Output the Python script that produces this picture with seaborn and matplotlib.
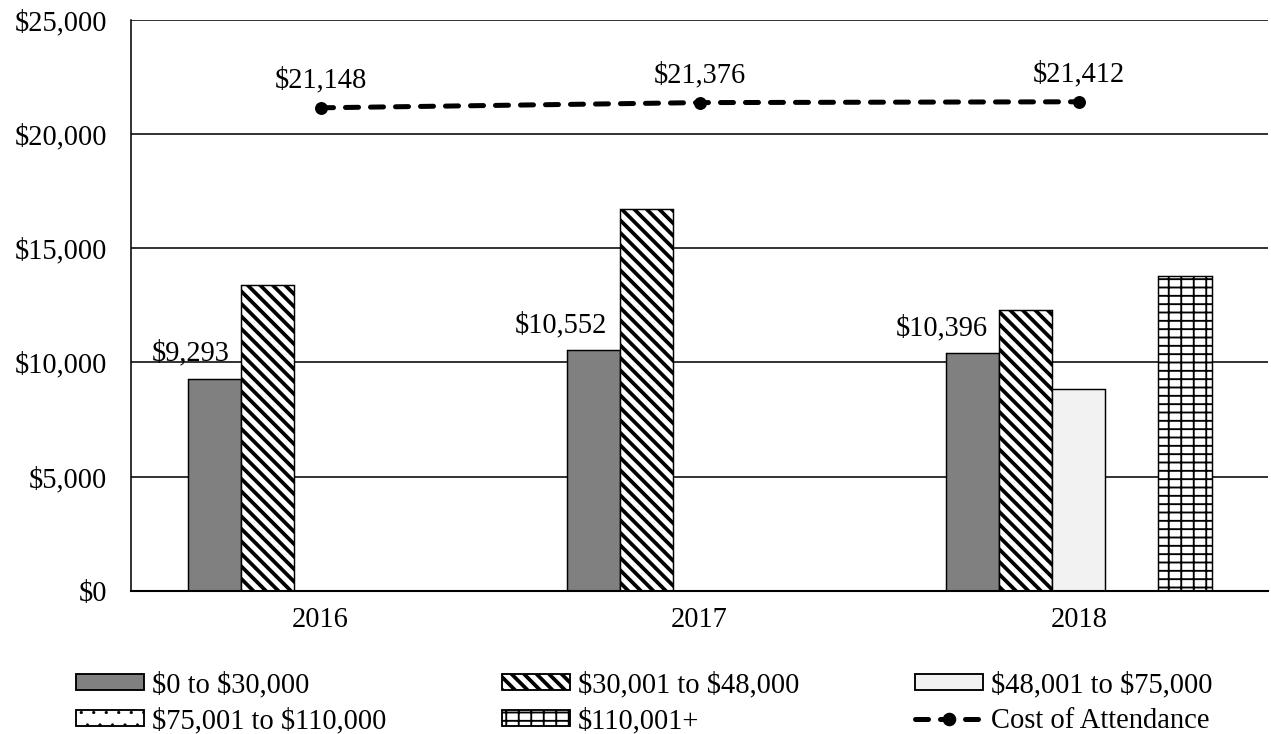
import numpy as np
import pandas as pd
import matplotlib
matplotlib.use('Agg')
import matplotlib.pyplot as plt
from matplotlib.lines import Line2D
from matplotlib.patches import Patch
from matplotlib.ticker import FuncFormatter
import seaborn as sns

# === データ ===
years = ['2016', '2017', '2018']
income_groups = ['$0 to $30,000', '$30,001 to $48,000', '$48,001 to $75,000',
                 '$75,001 to $110,000', '$110,001+']
net_price_0_30k = [9293, 10552, 10396]
net_price_30k_48k = [13400, 16700, 12300]
net_price_48k_75k = [np.nan, np.nan, 8850]
net_price_75k_110k = [np.nan, np.nan, np.nan]
net_price_110k_plus = [np.nan, np.nan, 13800]
cost_of_attendance = [21148, 21376, 21412]
yticks = [0, 5000, 10000, 15000, 20000, 25000]

# 見た目の設定
BS = chr(92)  # バックスラッシュ（エスケープ対策）
group_colors = ['#808080', 'white', '#f2f2f2', 'white', 'white']
group_hatches = ['', BS * 4, '', '..', '---||']
hatch_widths = [1.0, 1.8, 1.0, 0.3, 0.9]
label_dx = [-11.5, -15.4, -14.9]  # 最初の棒のラベル位置 (pt)

series = [net_price_0_30k, net_price_30k_48k, net_price_48k_75k,
          net_price_75k_110k, net_price_110k_plus]
rows = []
for grp, vals in zip(income_groups, series):
    for yr, v in zip(years, vals):
        rows.append({'year': yr, 'group': grp, 'value': v})
df = pd.DataFrame(rows).dropna()

sns.set_theme(style='white')
plt.rcParams['font.family'] = ['Liberation Serif', 'DejaVu Serif']
plt.rcParams['font.size'] = 13.7
for k in ['text.color', 'axes.labelcolor', 'xtick.color', 'ytick.color']:
    plt.rcParams[k] = 'black'
plt.rcParams['hatch.linewidth'] = 1.8
plt.rcParams['hatch.color'] = 'black'

DPI = 150
fig = plt.figure(figsize=(1271 / DPI, 734 / DPI), dpi=DPI)
ax = fig.add_axes([0.103, 0.195, 0.895, 0.778])

width = 0.7
sns.barplot(data=df, x='year', y='value', hue='group', order=years,
            hue_order=income_groups, palette=dict(zip(income_groups, group_colors)),
            saturation=1, width=width, edgecolor='black', linewidth=0.7,
            errorbar=None, legend=False, ax=ax)


def style_hatch(patch, k):
    patch.set_hatch(group_hatches[k])
    if hasattr(patch, 'set_hatch_linewidth'):
        patch.set_hatch_linewidth(hatch_widths[k])


# 棒の位置からグループを判定してハッチを付ける
slot = width / len(income_groups)
for bar in ax.patches:
    c = bar.get_x() + bar.get_width() / 2
    i = int(round(c))
    k = int(round((c - i + width / 2 - slot / 2) / slot))
    style_hatch(bar, k)

# === Cost of Attendance の折れ線 ===
line_dashes = (2.6, 2.4)
sns.pointplot(x=years, y=cost_of_attendance, order=years, color='black',
              markers='o', linestyles='--', errorbar=None, ax=ax,
              linewidth=2.4, markersize=5.5, markeredgewidth=0.7)
coa_line = ax.lines[-1]
coa_line.set_dashes(line_dashes)
coa_line.set_dash_capstyle('round')
coa_line.set_zorder(5)

for i, v in enumerate(cost_of_attendance):
    ax.annotate(f'${v:,.0f}', xy=(i, v), xytext=(0, 9.6), textcoords='offset points',
                ha='center', va='baseline', fontsize=13.7)

first_slot = -width / 2 + slot / 2
for i, v in enumerate(net_price_0_30k):
    ax.annotate(f'${v:,.0f}', xy=(i + first_slot, v), xytext=(label_dx[i], 8.6),
                textcoords='offset points', ha='center', va='baseline', fontsize=13.7)

# === 軸 ===
ax.set_ylim(0, 25000)
ax.set_xlim(-0.5, 2.5)
ax.set_yticks(yticks)
ax.yaxis.set_major_formatter(FuncFormatter(lambda v, p: f'${v:,.0f}'))
ax.set_xticks(range(len(years)))
ax.set_xticklabels(years)
ax.set_xticks([-0.5, 0.5, 1.5, 2.5], minor=True)
ax.tick_params(axis='y', length=0, pad=11.5, labelsize=13.7)
ax.tick_params(axis='x', which='major', length=0, pad=7.7, labelsize=13.7)
ax.tick_params(axis='x', which='minor', length=3.4, width=0.75, direction='out',
               color='black')
ax.set_xlabel('')
ax.set_ylabel('')

ax.set_axisbelow(True)
ax.yaxis.grid(True, color='black', linewidth=0.75)
ax.xaxis.grid(False)
for s in ['top', 'right']:
    ax.spines[s].set_visible(False)
ax.spines['left'].set_color('black')
ax.spines['left'].set_linewidth(0.75)
ax.spines['bottom'].set_color('black')
ax.spines['bottom'].set_linewidth(1.0)

# === 凡例 ===
handles = []
for k, c in enumerate(group_colors):
    p = Patch(facecolor=c, edgecolor='black', linewidth=0.9)
    style_hatch(p, k)
    handles.append(p)
handles.append(Line2D([0], [0], color='black', linewidth=2.4, dashes=line_dashes,
                      dash_capstyle='round', marker='o', markersize=5.5))
labels = [g.replace('$', BS + '$') for g in income_groups] + ['Cost of Attendance']
order = [0, 3, 1, 4, 2, 5]
leg = fig.legend([handles[j] for j in order], [labels[j] for j in order],
                 loc='center', bbox_to_anchor=(0.507, 0.042), ncol=3, frameon=False,
                 fontsize=13.7, handlelength=2.38, handleheight=0.49,
                 handletextpad=0.28, columnspacing=4.05, labelspacing=0.33,
                 borderpad=0)
# 凡例のパッチにもハッチの太さを反映させる
for p, j in zip(leg.get_patches(), [j for j in order if j < len(group_colors)]):
    style_hatch(p, j)

fig.savefig('out.png', dpi=DPI)
